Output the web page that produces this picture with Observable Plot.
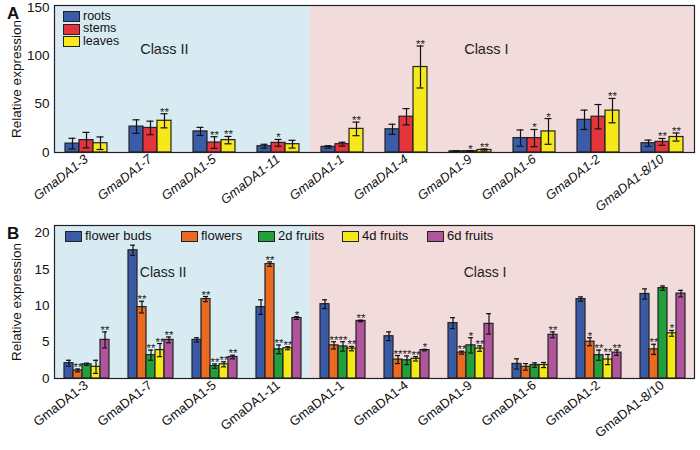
<!DOCTYPE html>
<html>
<head>
<meta charset="utf-8">
<script src="https://cdn.jsdelivr.net/npm/d3@7"></script>
<script src="https://cdn.jsdelivr.net/npm/@observablehq/plot@0.6"></script>
<style>
  html, body { margin: 0; padding: 0; background: #fff; }
  #chart { position: relative; width: 700px; height: 450px; font-family: "Liberation Sans", Arial, sans-serif; }
  #chart svg { display: block; }
  .plab { position: absolute; font-weight: bold; font-size: 17px; color: #111; }
  .leg { position: absolute; font-size: 12.5px; color: #111; line-height: 12px; white-space: nowrap; }
  .legB { font-size: 13px; }
  .sw { display: inline-block; width: 15px; height: 9px; border: 1.2px solid #222; vertical-align: middle; margin-right: 3px; }
</style>
</head>
<body>
<div id="chart"></div>
<script>
const genes = ["GmaDA1-3","GmaDA1-7","GmaDA1-5","GmaDA1-11","GmaDA1-1","GmaDA1-4","GmaDA1-9","GmaDA1-6","GmaDA1-2","GmaDA1-8/10"];
const geneClass = ["Class II","Class II","Class II","Class II","Class I","Class I","Class I","Class I","Class I","Class I"];

// Panel A
const tissuesA = ["roots","stems","leaves"];
const colorsA = ["#3a5ba8","#e3353b","#f6e81a"];
const roots = [9.2, 26.8, 21.8, 6.5, 5.8, 24, 1.2, 14.9, 33.8, 9.6];
const rootsErr = [5.5, 7, 4.2, 2, 1.2, 5.2, 0.6, 8.4, 10, 3.2];
const rootsSig = ["","","","","","","","","",""];
const stems = [12.8, 25.4, 10.3, 10, 8.6, 37, 1.3, 14.9, 37, 11];
const stemsErr = [8, 7, 6, 3.5, 2, 8.4, 0.6, 8.9, 12.6, 3.5];
const stemsSig = ["","","**","*","","","*","*","","**"];
const leaves = [9.6, 32.8, 12.8, 8.6, 24.4, 88.4, 2.6, 21.8, 43.3, 16];
const leavesErr = [6.5, 7.3, 3.8, 4, 7, 21.7, 1, 13.3, 12.6, 4.2];
const leavesSig = ["","**","**","","**","**","**","*","**","**"];
const yTicksA = [0, 50, 100, 150];

// Panel B
const tissuesB = ["flower buds","flowers","2d fruits","4d fruits","6d fruits"];
const colorsB = ["#3b5ba6","#ea6a22","#22a03c","#f6ea16","#b0559c"];
const buds = [2.1, 17.6, 5.3, 9.8, 10.2, 5.8, 7.6, 2.0, 10.9, 11.6];
const budsErr = [0.4, 0.7, 0.3, 1.0, 0.6, 0.6, 0.75, 0.7, 0.3, 0.7];
const budsSig = ["","","","","","","","","",""];
const flowers = [1.1, 9.8, 10.9, 15.7, 4.55, 2.6, 3.55, 1.6, 5.05, 4.0];
const flowersErr = [0.2, 0.8, 0.35, 0.3, 0.5, 0.55, 0.2, 0.45, 0.55, 0.7];
const flowersSig = ["**","**","**","**","**","**","**","","*","**"];
const fruits2d = [1.95, 3.2, 1.7, 4.0, 4.4, 2.5, 4.55, 1.85, 3.2, 12.4];
const fruits2dErr = [0.15, 0.7, 0.3, 0.6, 0.65, 0.6, 1.05, 0.3, 0.7, 0.3];
const fruits2dSig = ["","**","**","**","**","**","*","","**",""];
const fruits4d = [1.6, 3.9, 1.95, 4.15, 4.1, 2.7, 4.1, 1.85, 2.6, 6.2];
const fruits4dErr = [0.9, 0.9, 0.35, 0.2, 0.3, 0.3, 0.37, 0.35, 0.7, 0.4];
const fruits4dSig = ["","**","**","**","**","**","**","","**","*"];
const fruits6d = [5.3, 5.3, 2.95, 8.3, 7.9, 3.9, 7.5, 6.0, 3.55, 11.65];
const fruits6dErr = [1.1, 0.4, 0.25, 0.2, 0.1, 0.1, 1.4, 0.4, 0.37, 0.45];
const fruits6dSig = ["**","**","**","*","**","*","","**","**",""];
const yTicksB = [0, 5, 10, 15, 20];

const FONT = '"Liberation Sans", Arial, sans-serif';
const bgII = "#d8ebf2";
const bgI = "#f2dbdb";

function table(tissues, vals, errs, sigs) {
  const out = [];
  genes.forEach((g, i) => tissues.forEach((t, k) => out.push({gene: g, tissue: t, value: vals[k][i], err: errs[k][i], sig: sigs[k][i]})));
  return out;
}
const dataA = table(tissuesA, [roots, stems, leaves], [rootsErr, stemsErr, leavesErr], [rootsSig, stemsSig, leavesSig]);
const dataB = table(tissuesB, [buds, flowers, fruits2d, fruits4d, fruits6d],
  [budsErr, flowersErr, fruits2dErr, fruits4dErr, fruits6dErr],
  [budsSig, flowersSig, fruits2dSig, fruits4dSig, fruits6dSig]);

function panel(opts) {
  const {data, tissues, colors, height, marginBottom, yMax, ticks, italic, classLabels, padOuter, capInset} = opts;
  const classIIGenes = genes.filter((g, i) => geneClass[i] === "Class II");
  const classIGenes = genes.filter((g, i) => geneClass[i] === "Class I");
  return Plot.plot({
    width: 700, height, marginTop: 5, marginBottom, marginLeft: 53, marginRight: 5,
    style: {fontFamily: FONT, fontSize: "13px", background: "transparent", color: "#111", overflow: "visible"},
    fx: {domain: genes, padding: 0, label: null},
    x: {domain: tissues, paddingInner: 0, paddingOuter: padOuter, axis: null},
    y: {domain: [0, yMax], label: null},
    color: {domain: tissues, range: colors},
    marks: [
      Plot.rect(classIIGenes, {fx: d => d, fill: bgII}),
      Plot.rect(classIGenes, {fx: d => d, fill: bgI}),
      Plot.text(classLabels, {fx: "gene", y: "y", text: "label", frameAnchor: "right", dx: opts.classDx, fontSize: opts.classSize, fill: "#222"}),
      Plot.barY(data, {fx: "gene", x: "tissue", y: "value", fill: "tissue", stroke: "#222", strokeWidth: 1.2}),
      Plot.ruleX(data, {fx: "gene", x: "tissue", y1: d => Math.max(0, d.value - d.err), y2: d => d.value + d.err, stroke: "#111", strokeWidth: 1.2}),
      Plot.tickY(data, {fx: "gene", x: "tissue", y: d => d.value + d.err, insetLeft: capInset, insetRight: capInset, stroke: "#111", strokeWidth: 1.2}),
      Plot.tickY(data, {fx: "gene", x: "tissue", y: d => Math.max(0, d.value - d.err), insetLeft: capInset, insetRight: capInset, stroke: "#111", strokeWidth: 1.2}),
      Plot.text(data.filter(d => d.sig), {fx: "gene", x: "tissue", y: d => d.value + d.err, text: "sig", lineAnchor: "bottom", dy: 2, fontSize: 11.5, fill: "#222"}),
      Plot.axisY({ticks, tickSize: 0, tickPadding: 5, label: "Relative expression", labelAnchor: "center", labelOffset: 43, labelArrow: "none", fontSize: 13.5}),
      Plot.axisFx({anchor: "bottom", tickSize: 0, tickPadding: 5, tickRotate: -38, label: null, fontSize: 13, fontStyle: italic ? "italic" : "normal"}),
      Plot.frame({facet: "super", stroke: "#222", strokeWidth: 1.2})
    ]
  });
}

const chart = document.getElementById("chart");

const plotA = panel({
  data: dataA, tissues: tissuesA, colors: colorsA, height: 220, marginBottom: 68, yMax: 152, ticks: yTicksA,
  italic: true, padOuter: 0.65, capInset: 3.5, classDx: 6, classSize: 14.5,
  classLabels: [{gene: "GmaDA1-7", label: "Class II", y: 107}, {gene: "GmaDA1-9", label: "Class I", y: 107}]
});
const plotB = panel({
  data: dataB, tissues: tissuesB, colors: colorsB, height: 230, marginBottom: 72, yMax: 21, ticks: yTicksB,
  italic: false, padOuter: 0.72, capInset: 2, classDx: 4, classSize: 14,
  classLabels: [{gene: "GmaDA1-7", label: "Class II", y: 14.6}, {gene: "GmaDA1-9", label: "Class I", y: 14.6}]
});
chart.appendChild(plotA);
chart.appendChild(plotB);

function addDiv(cls, html, left, top) {
  const d = document.createElement("div");
  d.className = cls; d.innerHTML = html;
  d.style.left = left + "px"; d.style.top = top + "px";
  chart.appendChild(d);
  return d;
}
addDiv("plab", "A", 7, 4);
addDiv("plab", "B", 7, 224);

// Legend A (vertical)
tissuesA.forEach((t, i) => {
  addDiv("leg", `<span class="sw" style="background:${colorsA[i]}"></span>${t}`, 63, 10 + i * 12.4);
});
// Legend B (horizontal)
const legBx = [65, 181, 258, 342, 427];
tissuesB.forEach((t, i) => {
  addDiv("leg legB", `<span class="sw" style="background:${colorsB[i]}"></span>${t}`, legBx[i], 230);
});
</script>
</body>
</html>
